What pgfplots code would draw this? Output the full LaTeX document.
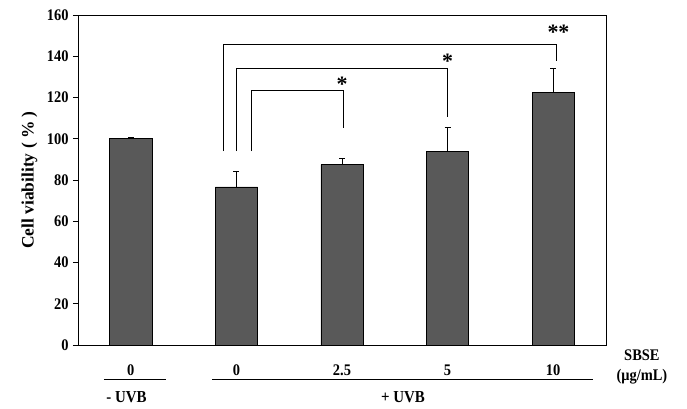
\documentclass[border=0pt]{standalone}
\usepackage{pgfplots}
\pgfplotsset{compat=1.18}
\usepackage{fontspec}
\setmainfont{Liberation Serif}
\definecolor{barfill}{RGB}{89,89,89}
\begin{document}
\begin{tikzpicture}
\useasboundingbox (-78bp,-64bp) rectangle (609bp,330bp+15bp);
\begin{axis}[
  at={(0,0)}, anchor=south west,
  scale only axis, width=528bp, height=330bp,
  xmin=-0.5, xmax=4.5, ymin=0, ymax=160,
  clip=false,
  axis line style={black, line width=0.8bp},
  tick pos=left, tick align=outside,
  ytick={0,20,...,160},
  xtick={0,1,2,3,4},
  xticklabels={0,0,2.5,5,10},
  x tick style={draw=none},
  extra x ticks={0.5,1.5,2.5,3.5},
  extra x tick labels={},
  extra x tick style={major tick length=5bp, tick style={draw=black, line width=0.8bp}},
  y tick style={black, line width=0.8bp},
  major tick length=5bp,
  /pgf/number format/assume math mode=true,
  ticklabel style={font=\fontsize{14.5}{14.5}\selectfont\bfseries, yscale=1.12},
  xticklabel style={anchor=center, yshift=-18bp},
  yticklabel style={xshift=-1bp},
  ylabel={Cell viability ( \% )},
  ylabel style={font=\fontsize{17.5}{17.5}\selectfont\bfseries, at={(axis description cs:-0.092,0.5)}, anchor=center},
]
\addplot[ybar, bar width=0.4, fill=barfill, draw=black, line width=0.6bp,
  error bars/.cd, y dir=plus, y explicit,
  error bar style={black, line width=0.8bp},
  error mark options={black, mark size=3bp, line width=0.8bp, rotate=90}]
  coordinates {
  (0,100.2) +- (0,0.5)
  (1,76.7) +- (0,7.6)
  (2,87.5) +- (0,2.8)
  (3,93.7) +- (0,11.7)
  (4,122.4) +- (0,11.7)
};
% significance brackets
\addplot[black, line width=0.7bp, mark=none] coordinates {(0.876,94) (0.876,145.9) (4.03,145.9) (4.03,137.6)};
\addplot[black, line width=0.7bp, mark=none] coordinates {(0.996,94) (0.996,134.2) (3.0,134.2) (3.0,110.4)};
\addplot[black, line width=0.7bp, mark=none] coordinates {(1.138,94) (1.138,123.5) (2.009,123.5) (2.009,105)};
\node[font=\fontsize{22}{22}\selectfont\bfseries] at (axis cs:2.0,126.5) {*};
\node[font=\fontsize{22}{22}\selectfont\bfseries] at (axis cs:3.0,137.7) {*};
\node[font=\fontsize{22}{22}\selectfont\bfseries] at (axis cs:4.05,151.7) {**};
% group annotations
\draw[black, line width=0.8bp] (axis cs:-0.254,-16.5) -- (axis cs:0.333,-16.5);
\draw[black, line width=0.8bp] (axis cs:0.769,-16.5) -- (axis cs:4.377,-16.5);
\node[font=\fontsize{15}{15}\selectfont\bfseries, yscale=1.12] at (axis cs:-0.041,-25.2) {- UVB};
\node[font=\fontsize{15}{15}\selectfont\bfseries, yscale=1.12] at (axis cs:2.578,-25.2) {+ UVB};
\node[font=\fontsize{14.5}{14.5}\selectfont\bfseries, yscale=1.12] at (axis cs:4.84,-4.85) {SBSE};
\node[font=\fontsize{14.5}{14.5}\selectfont\bfseries, yscale=1.12] at (axis cs:4.84,-15.5) {(μg/mL)};
\end{axis}
\end{tikzpicture}
\end{document}
